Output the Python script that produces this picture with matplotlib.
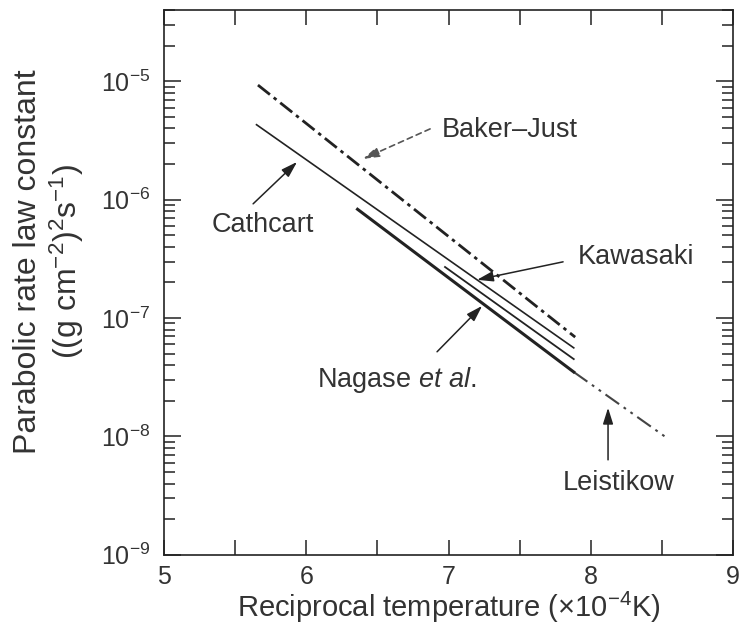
import numpy as np
import matplotlib
matplotlib.use("Agg")
import matplotlib.pyplot as plt
from matplotlib.ticker import LogLocator, MultipleLocator, NullFormatter

plt.rcParams['font.family'] = ['Liberation Sans', 'DejaVu Sans']
plt.rcParams['lines.scale_dashes'] = False
plt.rcParams['mathtext.fontset'] = 'custom'
plt.rcParams['mathtext.rm'] = 'Liberation Sans'
plt.rcParams['mathtext.it'] = 'Liberation Sans:italic'

# Data (reciprocal temperature x 1e-4 K^-1, rate constant)
baker_x = [5.66, 7.89]
baker_y = [9.3e-6, 6.9e-8]
cathcart_x = [5.65, 7.88]
cathcart_y = [4.3e-6, 5.6e-8]
kawasaki_x = [6.975, 7.88]
kawasaki_y = [2.7e-7, 4.5e-8]
nagase_x = [6.36, 7.88]
nagase_y = [8.3e-7, 3.5e-8]
leistikow_x = [7.88, 8.53]
leistikow_y = [3.5e-8, 9.8e-9]

xticks = [5, 6, 7, 8, 9]
yticks = [1e-9, 1e-8, 1e-7, 1e-6, 1e-5]
ytick_labels = [r'$10^{-9}$', r'$10^{-8}$', r'$10^{-7}$', r'$10^{-6}$', r'$10^{-5}$']

fig = plt.figure(figsize=(7.39, 6.29), dpi=100)
ax = fig.add_axes([0.222, 0.118, 0.770, 0.866])
col = '#222222'
tcol = '#333333'

ax.plot(baker_x, baker_y, color=col, lw=2.0, dashes=(11, 3.5, 2.5, 3.5))
ax.plot(cathcart_x, cathcart_y, color=col, lw=1.2)
ax.plot(kawasaki_x, kawasaki_y, color=col, lw=1.3)
ax.plot(leistikow_x, leistikow_y, color='#444444', lw=1.5, dashes=(12, 4, 2, 4, 2, 4))
ax.plot(nagase_x, nagase_y, color=col, lw=2.2)

ax.set_yscale('log')
ax.set_xlim(5, 9)
ax.set_ylim(1e-9, 4e-5)
ax.set_xticks(xticks)
ax.set_xticklabels([str(v) for v in xticks])
ax.xaxis.set_minor_locator(MultipleLocator(0.5))
ax.set_yticks(yticks)
ax.set_yticklabels(ytick_labels)
ax.yaxis.set_minor_locator(LogLocator(base=10, subs=np.arange(2, 10)))
ax.yaxis.set_minor_formatter(NullFormatter())

ax.tick_params(axis='both', which='both', direction='in', top=True, right=True,
               color=col, width=1.1, labelsize=18, labelcolor=tcol)
ax.tick_params(axis='x', which='both', length=11, pad=7)
ax.tick_params(axis='y', which='major', length=12, pad=10)
ax.tick_params(axis='y', which='minor', length=8)
for s in ax.spines.values():
    s.set_linewidth(1.2)
    s.set_color(col)

ax.set_xlabel('Reciprocal temperature ($\\times$10$^{-4}$K)', fontsize=21, color=tcol, labelpad=1)
ax.set_ylabel('Parabolic rate law constant\n((g cm$^{-2}$)$^{2}$s$^{-1}$)', fontsize=23,
              color=tcol, linespacing=1.15)
ax.yaxis.set_label_coords(-0.137, 0.538)

fs = 19.5
ahead = '-|>,head_length=0.7,head_width=0.22'
# Labels
ax.text(6.954, 10**-5.41, 'Baker\u2013Just', fontsize=fs, color=tcol, va='center', ha='left')
ax.text(5.696, 10**-6.213, 'Cathcart', fontsize=fs, color=tcol, va='center', ha='center')
ax.text(7.910, 10**-6.483, 'Kawasaki', fontsize=fs, color=tcol, va='center', ha='left')
ax.text(6.638, 10**-7.522, 'Nagase $\\it{et\\ al.}$', fontsize=fs, color=tcol, va='center', ha='center')
ax.text(8.199, 10**-8.392, 'Leistikow', fontsize=fs, color=tcol, va='center', ha='center')

# Arrows (tip, tail)
ax.annotate('', xy=(6.399, 10**-5.655), xytext=(6.87, 10**-5.402),
            arrowprops=dict(arrowstyle=ahead, color='#555555', lw=1.2, ls=(0, (4, 3)),
                            shrinkA=0, shrinkB=0, mutation_scale=14))
ax.annotate('', xy=(5.935, 10**-5.681), xytext=(5.626, 10**-6.035),
            arrowprops=dict(arrowstyle=ahead, color=col, lw=1.1, shrinkA=0, shrinkB=0,
                            mutation_scale=14))
ax.annotate('', xy=(7.200, 10**-6.677), xytext=(7.805, 10**-6.525),
            arrowprops=dict(arrowstyle=ahead, color=col, lw=1.1, shrinkA=0, shrinkB=0,
                            mutation_scale=14))
ax.annotate('', xy=(7.236, 10**-6.897), xytext=(6.919, 10**-7.285),
            arrowprops=dict(arrowstyle=ahead, color=col, lw=1.1, shrinkA=0, shrinkB=0,
                            mutation_scale=14))
ax.annotate('', xy=(8.121, 10**-7.758), xytext=(8.121, 10**-8.198),
            arrowprops=dict(arrowstyle=ahead, color=col, lw=1.1, shrinkA=0, shrinkB=0,
                            mutation_scale=14))

fig.savefig('out.png', dpi=100, facecolor='white')
